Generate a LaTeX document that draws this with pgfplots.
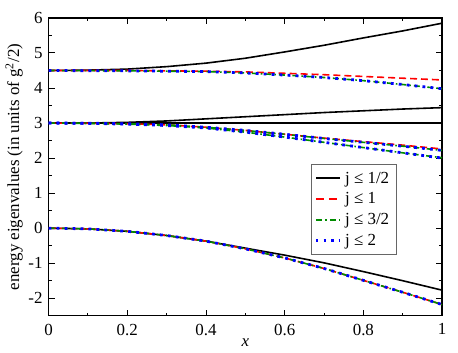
\documentclass[border=0pt]{standalone}
\usepackage{fontspec}
\setmainfont{Liberation Serif}
\usepackage{pgfplots}
\pgfplotsset{compat=1.18}
\definecolor{jred}{RGB}{255,0,0}
\definecolor{jgreen}{RGB}{0,140,0}
\definecolor{jblue}{RGB}{0,0,255}
\begin{document}
\fontsize{8.5}{10}\selectfont
\begin{tikzpicture}
\begin{axis}[
  scale only axis,
  width=197.5pt, height=149.5pt,
  xmin=0, xmax=1, ymin=-2.5, ymax=6,
  xtick={0,0.2,...,1}, ytick={-2,...,6},
  minor x tick num=1, minor y tick num=1,
  tick align=inside,
  major tick length=3pt, minor tick length=1.6pt,
  axis line style={line width=0.7pt},
  tick style={line width=0.5pt, black},
  /pgf/number format/assume math mode=true,
  tick label style={font=\fontsize{8.5}{10}\selectfont},
  xticklabel style={yshift=-1pt},
  xlabel={\textit{x}},
  xlabel style={yshift=4pt},
  ylabel={energy eigenvalues (in units of g\textsuperscript{2}/2)},
  ylabel style={yshift=-3pt},
  legend style={at={(0.668,0.508)}, anchor=north west, draw=black!60,
    font=\fontsize{8.5}{9.5}\selectfont,
    inner sep=1.5pt, row sep=-0.5pt},
  legend cell align=left,
  legend image code/.code={\draw[#1] (0pt,0.25pt) -- (12pt,0.25pt);},
]
% j <= 1/2 (black)
\addplot[black, line width=0.8pt, forget plot] coordinates {
  (0,0) (0.1,-0.02) (0.2,-0.09) (0.3,-0.21) (0.4,-0.37) (0.5,-0.57)
  (0.6,-0.77) (0.7,-0.99) (0.8,-1.24) (0.9,-1.50) (1.0,-1.77)};
\addplot[black, line width=0.8pt, forget plot] coordinates {
  (0,3) (0.5,3) (1.0,3)};
\addplot[black, line width=0.8pt, forget plot] coordinates {
  (0,3) (0.1,3.0) (0.2,3.02) (0.3,3.06) (0.4,3.12) (0.5,3.18)
  (0.6,3.24) (0.7,3.30) (0.8,3.35) (0.9,3.40) (1.0,3.44)};
\addplot[black, line width=0.8pt, forget plot] coordinates {
  (0,4.5) (0.1,4.51) (0.2,4.54) (0.3,4.61) (0.4,4.71) (0.5,4.85)
  (0.6,5.03) (0.7,5.22) (0.8,5.43) (0.9,5.63) (1.0,5.85)};
% j <= 1 (red dashed)
\addplot[jred, line width=0.8pt, dash pattern=on 3.5pt off 2pt, forget plot] coordinates {
  (0,0) (0.1,-0.02) (0.2,-0.09) (0.3,-0.21) (0.4,-0.37) (0.5,-0.59)
  (0.6,-0.85) (0.7,-1.15) (0.8,-1.49) (0.9,-1.83) (1.0,-2.18)};
\addplot[jred, line width=0.8pt, dash pattern=on 3.5pt off 2pt, forget plot] coordinates {
  (0,3.0) (0.1,2.995) (0.2,2.98) (0.3,2.95) (0.4,2.88) (0.5,2.79)
  (0.6,2.68) (0.7,2.57) (0.8,2.47) (0.9,2.37) (1.0,2.26)};
\addplot[jred, line width=0.8pt, dash pattern=on 3.5pt off 2pt, forget plot] coordinates {
  (0,4.5) (0.2,4.5) (0.4,4.48) (0.5,4.46) (0.6,4.42) (0.7,4.38)
  (0.8,4.33) (0.9,4.28) (1.0,4.23)};
% j <= 3/2 (green dash-dot)
\addplot[jgreen, line width=0.8pt, dash pattern=on 3pt off 1.5pt on 0.8pt off 1.5pt, forget plot] coordinates {
  (0,0) (0.1,-0.02) (0.2,-0.09) (0.3,-0.21) (0.4,-0.37) (0.5,-0.59)
  (0.6,-0.85) (0.7,-1.15) (0.8,-1.49) (0.9,-1.83) (1.0,-2.18)};
\addplot[jgreen, line width=0.8pt, dash pattern=on 3pt off 1.5pt on 0.8pt off 1.5pt, forget plot] coordinates {
  (0,3.0) (0.1,2.995) (0.2,2.98) (0.3,2.95) (0.4,2.88) (0.5,2.79)
  (0.6,2.68) (0.7,2.56) (0.8,2.45) (0.9,2.34) (1.0,2.22)};
\addplot[jgreen, line width=0.8pt, dash pattern=on 3pt off 1.5pt on 0.8pt off 1.5pt, forget plot] coordinates {
  (0,3.0) (0.1,2.99) (0.2,2.97) (0.3,2.93) (0.4,2.86) (0.5,2.74)
  (0.6,2.60) (0.7,2.45) (0.8,2.30) (0.9,2.15) (1.0,2.01)};
\addplot[jgreen, line width=0.8pt, dash pattern=on 3pt off 1.5pt on 0.8pt off 1.5pt, forget plot] coordinates {
  (0,4.5) (0.2,4.49) (0.4,4.47) (0.5,4.43) (0.6,4.37) (0.7,4.30)
  (0.8,4.21) (0.9,4.10) (1.0,3.98)};
% j <= 2 (blue dotted)
\addplot[jblue, line width=1.4pt, dash pattern=on 1.4pt off 2.6pt, forget plot] coordinates {
  (0,0) (0.1,-0.02) (0.2,-0.09) (0.3,-0.21) (0.4,-0.37) (0.5,-0.59)
  (0.6,-0.85) (0.7,-1.15) (0.8,-1.49) (0.9,-1.83) (1.0,-2.18)};
\addplot[jblue, line width=1.4pt, dash pattern=on 1.4pt off 2.6pt, forget plot] coordinates {
  (0,3.0) (0.1,2.995) (0.2,2.98) (0.3,2.95) (0.4,2.88) (0.5,2.79)
  (0.6,2.68) (0.7,2.56) (0.8,2.45) (0.9,2.34) (1.0,2.22)};
\addplot[jblue, line width=1.4pt, dash pattern=on 1.4pt off 2.6pt, forget plot] coordinates {
  (0,3.0) (0.1,2.99) (0.2,2.97) (0.3,2.93) (0.4,2.86) (0.5,2.74)
  (0.6,2.60) (0.7,2.45) (0.8,2.30) (0.9,2.15) (1.0,2.00)};
\addplot[jblue, line width=1.4pt, dash pattern=on 1.4pt off 2.6pt, forget plot] coordinates {
  (0,4.5) (0.2,4.49) (0.4,4.47) (0.5,4.43) (0.6,4.37) (0.7,4.30)
  (0.8,4.21) (0.9,4.10) (1.0,3.98)};
% legend
\addlegendimage{black, line width=0.9pt}
\addlegendentry{j ≤ 1/2}
\addlegendimage{jred, line width=1pt, dash pattern=on 4pt off 2.5pt}
\addlegendentry{j ≤ 1}
\addlegendimage{jgreen, line width=1pt, dash pattern=on 3pt off 1.5pt on 1pt off 1.5pt}
\addlegendentry{j ≤ 3/2}
\addlegendimage{jblue, line width=1.2pt, dash pattern=on 1.2pt off 2.6pt}
\addlegendentry{j ≤ 2}
\end{axis}
\path (-23.5pt,-18.5pt) rectangle (205.5pt,158.5pt);
\end{tikzpicture}
\end{document}
